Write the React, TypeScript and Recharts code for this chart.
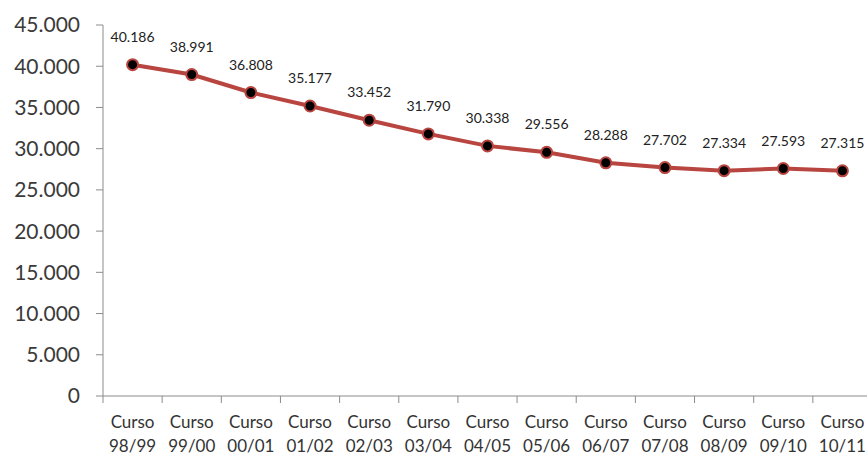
import React from 'react';
import { LineChart, Line, XAxis, YAxis, LabelList } from 'recharts';

// Course labels and values
const cursos = [
  '98/99', '99/00', '00/01', '01/02', '02/03', '03/04', '04/05',
  '05/06', '06/07', '07/08', '08/09', '09/10', '10/11',
];
const alumnos = [
  40186, 38991, 36808, 35177, 33452, 31790, 30338,
  29556, 28288, 27702, 27334, 27593, 27315,
];
const yTicks = [0, 5000, 10000, 15000, 20000, 25000, 30000, 35000, 40000, 45000];

const data = cursos.map((c, i) => ({ idx: i, curso: c, value: alumnos[i] }));

// label ticks at each course, tick marks between courses
const xTicks: number[] = [];
cursos.forEach((_c, i) => {
  xTicks.push(i - 0.5);
  xTicks.push(i);
});
xTicks.push(cursos.length - 0.5);

const FONT = 'Lato, "Open Sans", sans-serif';
const fmt = (v: number) => v.toString().replace(/\B(?=(\d{3})+(?!\d))/g, '.');

const XTick = (props: any) => {
  const { x, y, payload } = props;
  const v = payload.value as number;
  if (!Number.isInteger(v)) {
    return <line x1={x} x2={x} y1={y} y2={y + 7} stroke="#8c8c8c" strokeWidth={1} />;
  }
  return (
    <g>
      <text x={x} y={y + 32} textAnchor="middle" fontSize={17} fill="#333" fontFamily={FONT}>
        Curso
      </text>
      <text x={x} y={y + 56} textAnchor="middle" fontSize={17} fill="#333" fontFamily={FONT}>
        {cursos[v]}
      </text>
    </g>
  );
};

const ValueLabel = (props: any) => {
  const { x, y, value } = props;
  return (
    <text x={x} y={y - 23} textAnchor="middle" fontSize={14} fill="#222" fontFamily={FONT}>
      {fmt(value)}
    </text>
  );
};

export default function App() {
  return (
    <div style={{ position: 'absolute', left: 0, top: 0, width: 867, height: 459, overflow: 'hidden', background: '#fff' }}>
      <LineChart width={872} height={459} data={data} margin={{ top: 25, right: 0, bottom: 0, left: 0 }}>
        <XAxis
          dataKey="idx"
          type="number"
          domain={[-0.5, cursos.length - 0.5]}
          ticks={xTicks}
          interval={0}
          tickSize={0}
          tickMargin={0}
          tickLine={false}
          tick={<XTick />}
          axisLine={{ stroke: '#8c8c8c', strokeWidth: 1 }}
          height={63}
        />
        <YAxis
          type="number"
          domain={[0, 45000]}
          ticks={yTicks}
          interval={0}
          tickFormatter={fmt}
          width={103}
          tickSize={7}
          tickMargin={16}
          tick={{ fontSize: 21, fill: '#3a3a3a', fontFamily: FONT }}
          tickLine={{ stroke: '#8c8c8c' }}
          axisLine={{ stroke: '#8c8c8c', strokeWidth: 1 }}
        />
        <Line
          type="linear"
          dataKey="value"
          stroke="#b8453f"
          strokeWidth={4}
          dot={{ r: 5.5, fill: '#000', stroke: '#b8453f', strokeWidth: 2 }}
          activeDot={false}
          isAnimationActive={false}
        >
          <LabelList dataKey="value" content={<ValueLabel />} />
        </Line>
      </LineChart>
    </div>
  );
}
